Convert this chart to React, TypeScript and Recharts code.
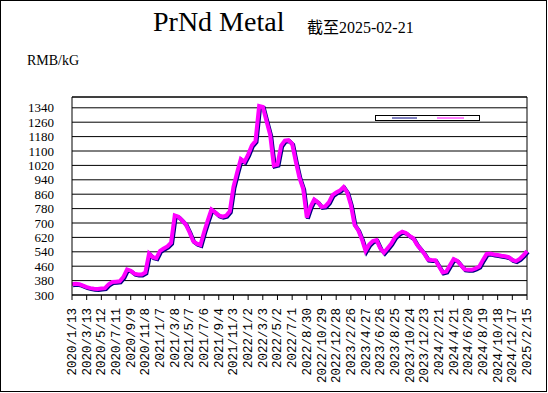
import React from "react";
import { LineChart, Line, XAxis, YAxis, CartesianGrid, ReferenceLine, Legend } from "recharts";

const tickLabels = [
  "2020/1/13", "2020/3/13", "2020/5/12", "2020/7/11", "2020/9/9", "2020/11/8",
  "2021/1/7", "2021/3/8", "2021/5/7", "2021/7/6", "2021/9/4", "2021/11/3",
  "2022/1/2", "2022/3/3", "2022/5/2", "2022/7/1", "2022/8/30", "2022/10/29",
  "2022/12/28", "2023/2/26", "2023/4/27", "2023/6/26", "2023/8/25", "2023/10/24",
  "2023/12/23", "2024/2/21", "2024/4/21", "2024/6/20", "2024/8/19", "2024/10/18",
  "2024/12/17", "2025/2/15",
];

// price samples, 4 per tick interval (RMB/kg)
const prices = [
  360, 362, 360, 352, 344, 338, 335, 334, 336, 338,
  360, 372, 374, 376, 400, 442, 435, 418, 414, 414,
  425, 530, 510, 505, 545, 558, 570, 590, 742, 735,
  715, 692, 650, 600, 585, 578, 650, 715, 775, 760,
  742, 735, 740, 765, 900, 980, 1055, 1040, 1080, 1130,
  1155, 1350, 1345, 1267, 1190, 1020, 1025, 1130, 1158, 1160,
  1140, 1040, 950, 890, 730, 790, 830, 815, 790, 792,
  815, 855, 870, 880, 900, 870, 800, 690, 660, 610,
  545, 580, 600, 605, 560, 535, 560, 585, 620, 640,
  652, 645, 628, 615, 580, 555, 530, 497, 495, 494,
  460, 425, 430, 465, 500, 490, 465, 442, 440, 440,
  448, 458, 495, 528, 530, 525, 522, 518, 515, 510,
  495, 488, 500, 520, 545,
];

const yTicks = [300, 380, 460, 540, 620, 700, 780, 860, 940, 1020, 1100, 1180, 1260, 1340];
const PER_TICK = 4;

const data = prices.map((p, i) => ({ i, price: p }));
const xTicks = tickLabels.map((_, k) => k * PER_TICK);
const lastIdx = (tickLabels.length - 1) * PER_TICK;

const XTick = (props: any) => {
  const { x, y, payload } = props;
  const label = tickLabels[Math.round(payload.value / PER_TICK)];
  return (
    <text
      x={0}
      y={0}
      transform={`translate(${x + 4},${y + 6}) rotate(-90)`}
      textAnchor="end"
      fontFamily="Liberation Mono"
      fontSize={12.5}
      fill="#000"
    >
      {label}
    </text>
  );
};

const LegendBox = () => (
  <svg width={107} height={8} style={{ display: "block" }}>
    <rect x={0.5} y={0.5} width={104} height={5} fill="#fff" stroke="#000" />
    <line x1={17} x2={42} y1={3} y2={3} stroke="#000080" strokeWidth={1} />
    <line x1={62} x2={89} y1={3} y2={3} stroke="#ff00ff" strokeWidth={1} />
  </svg>
);

export default function App() {
  return (
    <div style={{ position: "relative", width: 548, height: 393, background: "#fff" }}>
      <style>{`body{margin:0}.navy-shadow{transform:translate(1px,1px)}`}</style>
      <div
        style={{
          position: "absolute",
          left: 0,
          top: 0,
          width: 547,
          height: 392,
          border: "1px solid #000",
          boxSizing: "border-box",
          pointerEvents: "none",
          zIndex: 2,
        }}
      />
      <div
        style={{
          position: "absolute",
          left: 153,
          top: 6,
          fontFamily: "Liberation Serif",
          fontSize: 28,
          whiteSpace: "pre",
          lineHeight: "32px",
          color: "#000",
        }}
      >
        PrNd Metal
      </div>
      <div
        style={{
          position: "absolute",
          left: 307,
          top: 18,
          fontFamily: "Liberation Serif, 'Noto Sans CJK SC'",
          fontSize: 16,
          whiteSpace: "pre",
          lineHeight: "20px",
          color: "#000",
        }}
      >
        截至2025-02-21
      </div>
      <div
        style={{
          position: "absolute",
          left: 27,
          top: 53,
          fontFamily: "Liberation Serif",
          fontSize: 14,
          lineHeight: "16px",
          color: "#000",
        }}
      >
        RMB/kG
      </div>
      <LineChart
        width={548}
        height={393}
        data={data}
        margin={{ top: 97, right: 21, bottom: 0, left: 12 }}
      >
        <CartesianGrid vertical={false} stroke="#000" strokeWidth={1} />
        <XAxis
          dataKey="i"
          type="number"
          domain={[0, lastIdx]}
          ticks={xTicks}
          interval={0}
          height={90}
          axisLine={{ stroke: "#000" }}
          tickLine={{ stroke: "#000" }}
          tickSize={5}
          tick={<XTick />}
        />
        <YAxis
          domain={[300, 1400]}
          ticks={yTicks}
          interval={0}
          width={60}
          axisLine={{ stroke: "#000" }}
          tickLine={false}
          tickMargin={12}
          tick={{ fill: "#000", fontSize: 13, fontFamily: "Liberation Serif" }}
        />
        <ReferenceLine y={1400} stroke="#000" />
        <ReferenceLine x={lastIdx} stroke="#000" />
        <Legend
          content={<LegendBox />}
          wrapperStyle={{ position: "absolute", left: 375, top: 115, width: 107, height: 8 }}
        />
        <Line
          className="navy-shadow"
          type="linear"
          dataKey="price"
          stroke="#000080"
          strokeWidth={4}
          dot={false}
          isAnimationActive={false}
          legendType="none"
        />
        <Line
          type="linear"
          dataKey="price"
          stroke="#ff00ff"
          strokeWidth={4}
          dot={false}
          isAnimationActive={false}
          legendType="none"
        />
      </LineChart>
    </div>
  );
}
